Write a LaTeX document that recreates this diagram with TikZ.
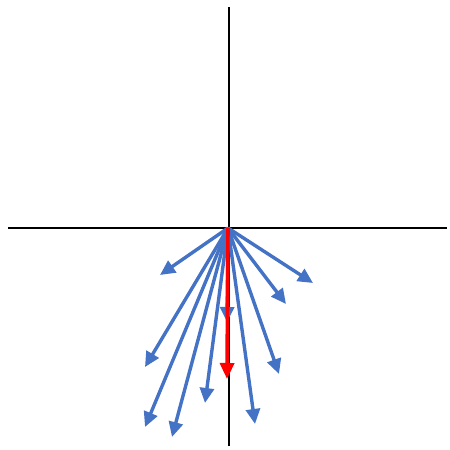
\documentclass[tikz,border=0pt]{standalone}
\usetikzlibrary{arrows.meta}
\definecolor{vecblue}{RGB}{68,114,196}
\tikzset{
  axis/.style={line width=2.6pt, black},
  vec/.style={line width=3.4pt, vecblue, -{Triangle[length=15pt,width=14pt]}},
  redvec/.style={line width=3.6pt, red, -{Triangle[length=16pt,width=14pt]}}
}
\begin{document}
\begin{tikzpicture}[x=1pt,y=-1pt]
\useasboundingbox (0,0) rectangle (450,450);
\coordinate (L) at (8,228);
\coordinate (R) at (447,228);
\coordinate (T) at (229,7);
\coordinate (B) at (229,446);
\coordinate (O) at (228,228);
\draw[axis] (L) -- (R);
\draw[axis] (T) -- (B);
\coordinate (v1) at (160,275);
\coordinate (v2) at (145,367);
\coordinate (v3) at (145,427);
\coordinate (v4) at (172,437);
\coordinate (v5) at (205,403);
\coordinate (v6) at (227,322);
\coordinate (v7) at (255,424);
\coordinate (v8) at (279,374);
\coordinate (v9) at (286,304);
\coordinate (v10) at (313,283);
\coordinate (vr) at (227,379);
\foreach \v in {v1,v2,v3,v4,v5,v6,v7,v8,v9,v10}
  \draw[vec] (O) -- (\v);
\draw[redvec] (O) -- (vr);
\end{tikzpicture}
\end{document}
